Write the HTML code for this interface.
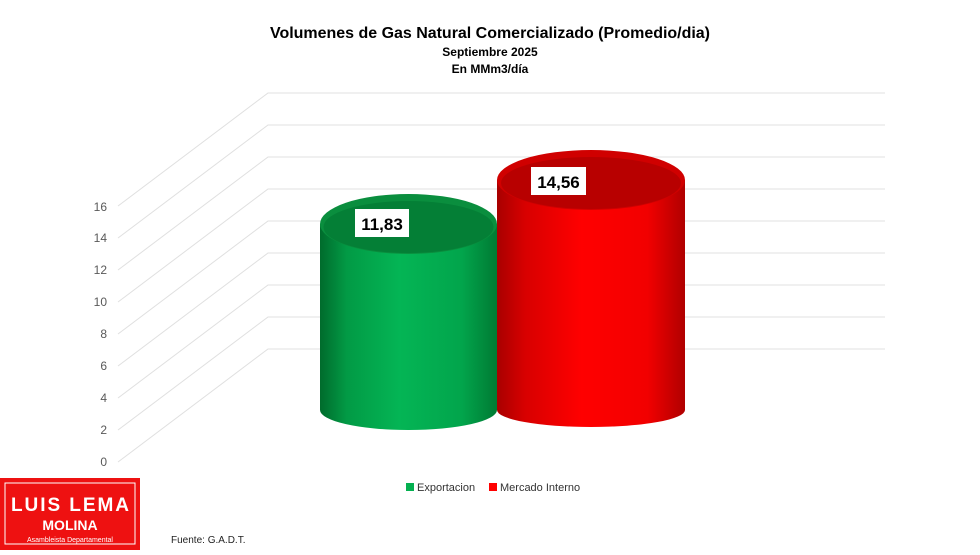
<!DOCTYPE html>
<html><head><meta charset="utf-8"><style>
body{margin:0;background:#fff;width:980px;height:550px;overflow:hidden;font-family:"Liberation Sans",sans-serif}
</style></head><body>
<svg width="980" height="550" viewBox="0 0 980 550" xmlns="http://www.w3.org/2000/svg">
<defs>
<linearGradient id="gg" x1="0" x2="1" y1="0" y2="0">
<stop offset="0" stop-color="#006b2c"/><stop offset="0.15" stop-color="#029a45"/><stop offset="0.45" stop-color="#04b555"/><stop offset="0.8" stop-color="#02a54c"/><stop offset="1" stop-color="#007a33"/></linearGradient>
<linearGradient id="rg" x1="0" x2="1" y1="0" y2="0">
<stop offset="0" stop-color="#a80000"/><stop offset="0.15" stop-color="#d80000"/><stop offset="0.45" stop-color="#ff0000"/><stop offset="0.8" stop-color="#f20000"/><stop offset="1" stop-color="#b00000"/></linearGradient>
</defs>
<g text-anchor="middle" font-weight="bold" fill="#000">
<text x="490" y="38" font-size="16" textLength="440">Volumenes de Gas Natural Comercializado (Promedio/dia)</text>
<text x="490" y="56" font-size="12">Septiembre 2025</text>
<text x="490" y="73" font-size="12">En MMm3/día</text>
</g>
<g stroke="#e0e0e0" stroke-width="1" fill="none">
<polyline points="118,462 268,349 885,349"/>
<polyline points="118,430 268,317 885,317"/>
<polyline points="118,398 268,285 885,285"/>
<polyline points="118,366 268,253 885,253"/>
<polyline points="118,334 268,221 885,221"/>
<polyline points="118,302 268,189 885,189"/>
<polyline points="118,270 268,157 885,157"/>
<polyline points="118,238 268,125 885,125"/>
<polyline points="118,206 268,93 885,93"/>
</g>
<g font-size="12" fill="#595959" text-anchor="end">
<text x="107" y="466">0</text><text x="107" y="434">2</text><text x="107" y="402">4</text><text x="107" y="370">6</text><text x="107" y="338">8</text><text x="107" y="306">10</text><text x="107" y="274">12</text><text x="107" y="242">14</text><text x="107" y="211">16</text>
</g>
<path d="M320,224 L320,410 A88.5,20 0 0 0 497,410 L497,224 Z" fill="url(#gg)"/>
<ellipse cx="408.5" cy="224" rx="88.5" ry="30" fill="#0a8e3e"/>
<ellipse cx="408.5" cy="227" rx="85" ry="26" fill="#047f36"/>
<path d="M497,180 L497,410 A94,17 0 0 0 685,410 L685,180 Z" fill="url(#rg)"/>
<ellipse cx="591" cy="180" rx="94" ry="30" fill="#d00000"/>
<ellipse cx="591" cy="183" rx="90" ry="26" fill="#b80000"/>
<rect x="355" y="209" width="54" height="28" fill="#fff"/>
<text x="382" y="230" font-size="17" font-weight="bold" text-anchor="middle">11,83</text>
<rect x="531" y="167" width="55" height="28" fill="#fff"/>
<text x="558.5" y="188" font-size="17" font-weight="bold" text-anchor="middle">14,56</text>
<rect x="406" y="483" width="8" height="8" fill="#04b050"/>
<text x="417" y="491" font-size="11" fill="#333">Exportacion</text>
<rect x="489" y="483" width="8" height="8" fill="#f00"/>
<text x="500" y="491" font-size="11" fill="#333">Mercado Interno</text>
<text x="171" y="543" font-size="10" fill="#222">Fuente: G.A.D.T.</text>
<rect x="0" y="478" width="140" height="72" fill="#ee1111"/>
<rect x="5" y="483" width="130" height="61" fill="none" stroke="#fff" stroke-width="1"/>
<text x="70" y="511" font-size="19" font-weight="bold" fill="#fff" text-anchor="middle" textLength="118">LUIS LEMA</text>
<text x="70" y="530" font-size="14" font-weight="bold" fill="#fff" text-anchor="middle">MOLINA</text>
<text x="70" y="542" font-size="7" fill="#fff" text-anchor="middle">Asambleista Departamental</text>
</svg>
</body></html>
